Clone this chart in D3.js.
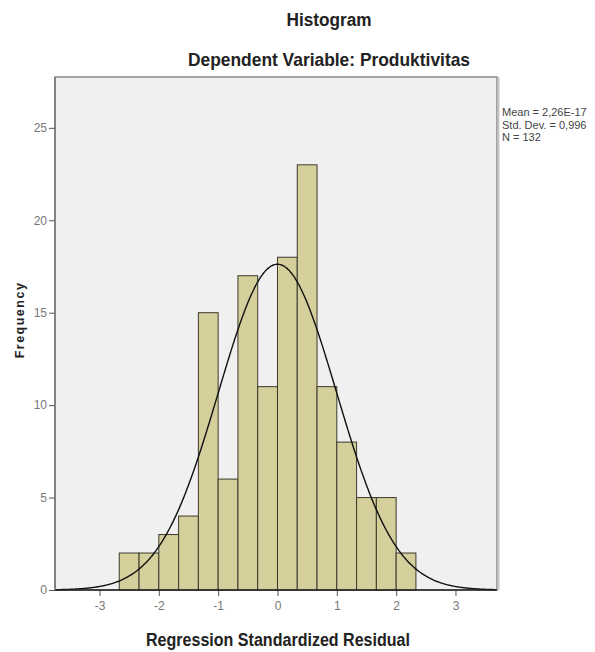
<!DOCTYPE html>
<html>
<head>
<meta charset="utf-8">
<script src="https://cdn.jsdelivr.net/npm/d3@7"></script>
<style>
  body { margin: 0; background: #fff; }
  svg { display: block; font-family: "Liberation Sans", Arial, sans-serif; }
</style>
</head>
<body>
<svg id="chart" width="595" height="652"></svg>
<script>
// histogram data (bin edges are k/3)
const binStarts = [-8/3, -7/3, -2, -5/3, -4/3, -1, -2/3, -1/3, 0, 1/3, 2/3, 1, 4/3, 5/3, 2];
const counts = [2, 2, 3, 4, 15, 6, 17, 11, 18, 23, 11, 8, 5, 5, 2];
const binWidth = 1/3;
const xTicks = [-3, -2, -1, 0, 1, 2, 3];
const yTicks = [0, 5, 10, 15, 20, 25];
const mean = 2.26e-17, sd = 0.996, n = 132;
const statLines = ['Mean = 2,26E-17', 'Std. Dev. = 0,996', 'N = 132'];

const svg = d3.select('#chart');
const frame = { left: 55, right: 497, top: 77, bottom: 590 };

const x = d3.scaleLinear().domain([-3.75, 3.7]).range([frame.left, frame.right]);
const y = d3.scaleLinear().domain([0, 27.75]).range([frame.bottom, frame.top]);

// plot background + frame
svg.append('rect')
  .attr('x', frame.left).attr('y', frame.top)
  .attr('width', frame.right - frame.left).attr('height', frame.bottom - frame.top)
  .attr('fill', '#f0f0f0')
  .attr('stroke', '#8a8a8a').attr('stroke-width', 1.5);
svg.append('line')
  .attr('x1', frame.right + 1.5).attr('x2', frame.right + 1.5)
  .attr('y1', frame.top).attr('y2', frame.bottom)
  .attr('stroke', '#c8c8c8').attr('stroke-width', 2);

// bars
svg.selectAll('rect.bar')
  .data(counts)
  .join('rect')
  .attr('class', 'bar')
  .attr('x', (d, i) => x(binStarts[i]))
  .attr('width', (d, i) => x(binStarts[i] + binWidth) - x(binStarts[i]))
  .attr('y', d => y(d))
  .attr('height', d => y(0) - y(d))
  .attr('fill', '#d4cf9b')
  .attr('stroke', '#3b3a2c')
  .attr('stroke-width', 1);

// fitted normal curve
const pdf = v => Math.exp(-0.5 * ((v - mean) / sd) ** 2) / (sd * Math.sqrt(2 * Math.PI));
const curveX = d3.range(x.domain()[0], x.domain()[1] + 0.001, 0.02);
const line = d3.line().x(d => x(d)).y(d => y(n * binWidth * pdf(d))).curve(d3.curveBasis);
svg.append('path')
  .datum(curveX)
  .attr('d', line)
  .attr('fill', 'none')
  .attr('stroke', '#111')
  .attr('stroke-width', 1.4);

// axes
const xAxis = svg.append('g')
  .attr('transform', `translate(0,${frame.bottom})`)
  .call(d3.axisBottom(x).tickValues(xTicks).tickSize(6).tickPadding(5).tickFormat(d3.format('d')));
const yAxis = svg.append('g')
  .attr('transform', `translate(${frame.left},0)`)
  .call(d3.axisLeft(y).tickValues(yTicks).tickSize(6).tickPadding(2));

[xAxis, yAxis].forEach(g => {
  g.select('.domain').remove();
  g.selectAll('.tick line').attr('stroke', '#555');
  g.selectAll('.tick text').attr('fill', '#777').style('font-size', '12px')
    .text(d => String(d));
});
svg.append('line')
  .attr('x1', frame.left).attr('x2', frame.right)
  .attr('y1', frame.bottom).attr('y2', frame.bottom)
  .attr('stroke', '#222').attr('stroke-width', 1.5);
svg.append('line')
  .attr('x1', frame.left).attr('x2', frame.left)
  .attr('y1', frame.top).attr('y2', frame.bottom)
  .attr('stroke', '#777').attr('stroke-width', 1.5);

// titles (condensed, like the original)
svg.append('text').attr('x', 329).attr('y', 26).attr('text-anchor', 'middle')
  .attr('textLength', 85).attr('lengthAdjust', 'spacingAndGlyphs')
  .style('font-size', '18px').style('font-weight', 'bold').attr('fill', '#222')
  .text('Histogram');
svg.append('text').attr('x', 329).attr('y', 66).attr('text-anchor', 'middle')
  .attr('textLength', 282).attr('lengthAdjust', 'spacingAndGlyphs')
  .style('font-size', '19px').style('font-weight', 'bold').attr('fill', '#222')
  .text('Dependent Variable: Produktivitas');

svg.append('text').attr('x', 278).attr('y', 646).attr('text-anchor', 'middle')
  .attr('textLength', 264).attr('lengthAdjust', 'spacingAndGlyphs')
  .style('font-size', '18px').style('font-weight', 'bold').attr('fill', '#222')
  .text('Regression Standardized Residual');

svg.append('text')
  .attr('transform', 'translate(24,320) rotate(-90)')
  .attr('text-anchor', 'middle')
  .style('font-size', '12.5px').style('font-weight', 'bold').style('letter-spacing', '1.5px')
  .attr('fill', '#222')
  .text('Frequency');

// stats legend
svg.append('g').selectAll('text')
  .data(statLines)
  .join('text')
  .attr('x', 502)
  .attr('y', (d, i) => 116 + i * 12.5)
  .style('font-size', '11px')
  .attr('fill', '#444')
  .text(d => d);
</script>
</body>
</html>
